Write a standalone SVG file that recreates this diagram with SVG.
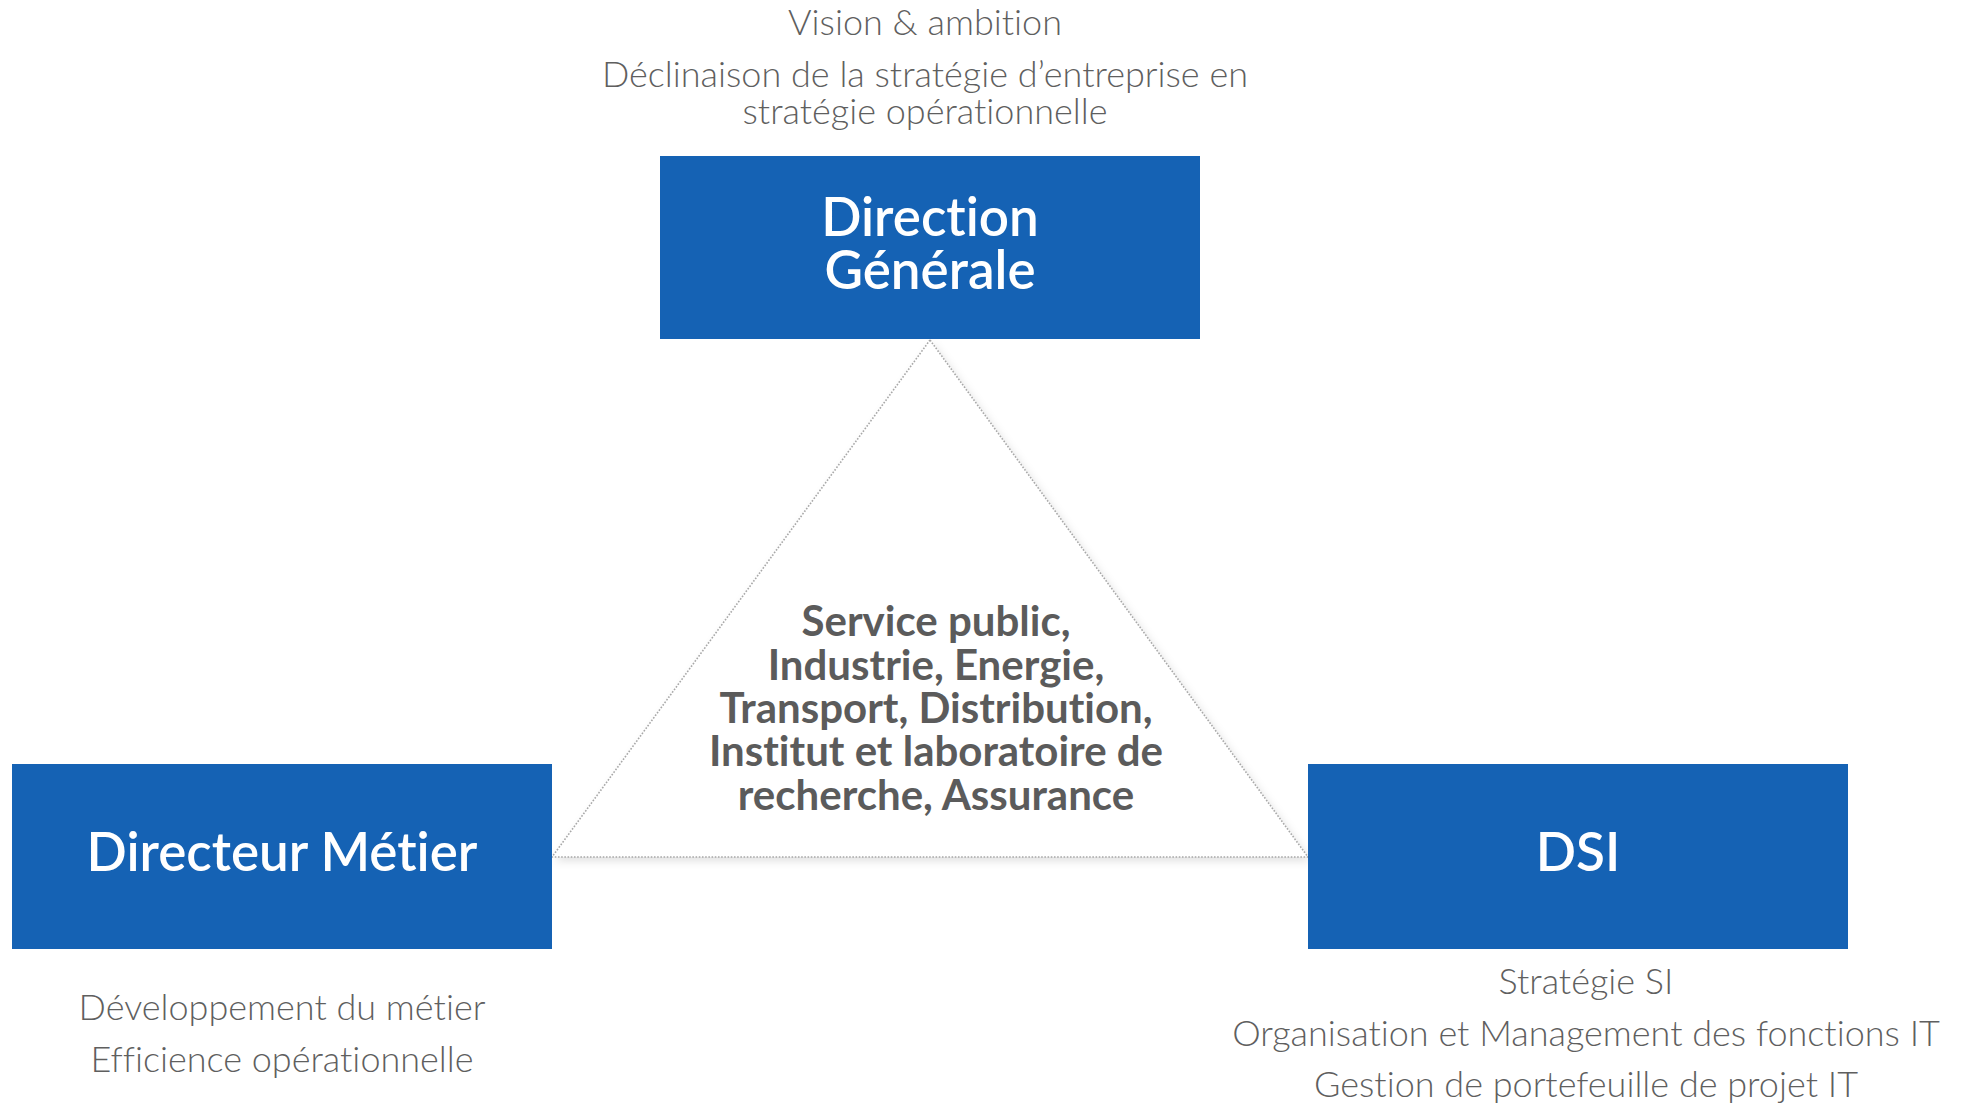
<svg xmlns="http://www.w3.org/2000/svg" width="1968" height="1103" viewBox="0 0 1968 1103">
<style>
text{font-variant-ligatures:none}
.box{fill:#1562b4}
.title{fill:#ffffff;font-family:Lato,"Open Sans","Liberation Sans",sans-serif;font-weight:600;font-size:53px;text-anchor:middle}
.note{fill:#5f5f5f;font-family:Lato,"Open Sans","Liberation Sans",sans-serif;font-weight:300;font-size:36px;text-anchor:middle}
.center{fill:#5b5b5b;font-family:Lato,"Open Sans","Liberation Sans",sans-serif;font-weight:700;font-size:42px;text-anchor:middle}
.edge{fill:none;stroke:#a8a8a8;stroke-width:1.6;stroke-dasharray:1.6 1.6}
</style>
<defs>
<filter id="sh" x="-10%" y="-10%" width="120%" height="120%">
<feGaussianBlur in="SourceAlpha" stdDeviation="4"/>
<feOffset dx="3" dy="4" result="b"/>
<feFlood flood-color="#000" flood-opacity="0.12"/>
<feComposite in2="b" operator="in"/>
<feMerge><feMergeNode/><feMergeNode in="SourceGraphic"/></feMerge>
</filter>
</defs>
<rect width="1968" height="1103" fill="#ffffff"/>
<g id="connectors">
<polygon points="930,340 552,857 1308,857" fill="#ffffff" filter="url(#sh)"/>
<polygon class="edge" points="930,340 552,857 1308,857"/>
</g>
<g id="center-label">
<text class="center" x="936" y="636">Service public,</text>
<text class="center" x="936" y="680">Industrie, Energie,</text>
<text class="center" x="936" y="723">Transport, Distribution,</text>
<text class="center" x="936" y="766">Institut et laboratoire de</text>
<text class="center" x="936" y="810">recherche, Assurance</text>
</g>
<g id="node-direction-generale">
<rect class="box" x="660" y="156" width="540" height="183"/>
<text class="title" x="930" y="236">Direction</text>
<text class="title" x="930" y="289">Générale</text>
<text class="note" x="925" y="35">Vision &amp; ambition</text>
<text class="note" x="925" y="87">Déclinaison de la stratégie d’entreprise en</text>
<text class="note" x="925" y="124">stratégie opérationnelle</text>
</g>
<g id="node-directeur-metier">
<rect class="box" x="12" y="764" width="540" height="185"/>
<text class="title" x="282" y="871">Directeur Métier</text>
<text class="note" x="282" y="1020">Développement du métier</text>
<text class="note" x="282" y="1072">Efficience opérationnelle</text>
</g>
<g id="node-dsi">
<rect class="box" x="1308" y="764" width="540" height="185"/>
<text class="title" x="1578" y="871">DSI</text>
<text class="note" x="1586" y="994">Stratégie SI</text>
<text class="note" x="1586" y="1046">Organisation et Management des fonctions IT</text>
<text class="note" x="1586" y="1097">Gestion de portefeuille de projet IT</text>
</g>
</svg>
